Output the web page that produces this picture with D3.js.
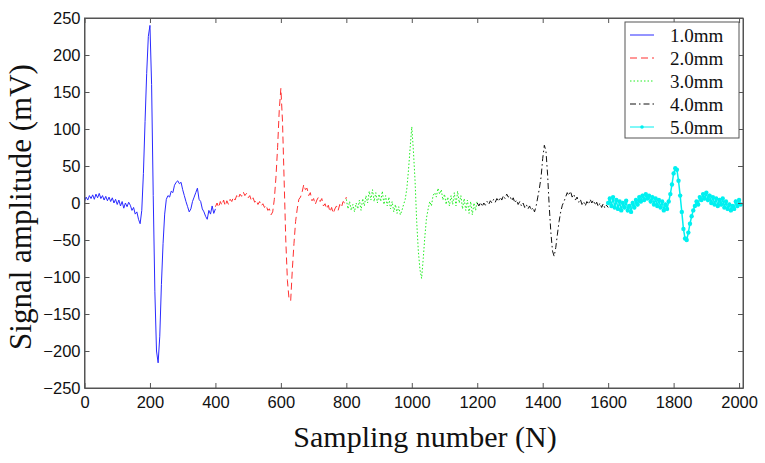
<!DOCTYPE html>
<html><head><meta charset="utf-8">
<script src="https://cdn.jsdelivr.net/npm/d3@7"></script>
<style>
html,body{margin:0;padding:0;background:#fff;}
svg{display:block;}
</style></head>
<body>
<svg id="chart" width="765" height="463"></svg>
<script>
// ---- data ----
const seriesNames = ["1.0mm", "2.0mm", "3.0mm", "4.0mm", "5.0mm"];
const sampleStep = 5;
const seriesStart = [0, 400, 800, 1200, 1600];
const xTicks = [0, 200, 400, 600, 800, 1000, 1200, 1400, 1600, 1800, 2000];
const yTicks = [-250, -200, -150, -100, -50, 0, 50, 100, 150, 200, 250];

const s1 = [2,8,4,10,6,11,5,12,7,13,6,10,4,9,3,8,2,7,0,5,-2,4,-4,2,-7,0,-5,1,-3,-10,-6,-15,-12,-22,-28,-10,
  40,110,175,225,240,160,10,-120,-200,-216,-180,-110,-55,-15,5,10,8,16,14,24,28,30,26,28,18,10,2,-5,-12,-8,2,8,14,20,5,2,-8,-12,-18,-22,-10,-15,-4,-14,-8];
const s2 = [-5,0,-6,2,-3,4,-4,3,-2,5,2,8,4,10,6,12,9,15,10,13,7,10,3,7,1,4,-2,2,-4,-1,-6,-3,-10,-8,-16,-12,
  5,35,75,125,155,110,30,-50,-105,-130,-132,-90,-55,-25,-8,5,8,15,25,18,20,10,14,3,6,-2,4,8,2,6,-4,-1,-8,-3,-12,-6,-14,-8,-4,-10,-2,-6,2,0,8];
const s3 = [5,-8,2,-10,-2,-12,0,-8,4,-10,6,-4,10,0,16,4,18,2,14,0,12,2,16,-2,10,-4,8,-8,2,-12,-2,-14,-5,-16,-10,-2,
  5,20,45,75,103,70,30,-25,-65,-90,-102,-75,-45,-20,-8,2,-4,10,14,8,20,12,18,4,12,-2,8,-4,10,-2,14,-4,16,0,10,-8,6,-10,4,-14,2,-16,0,-10,4];
const s4 = [0,-4,1,-5,0,-3,2,-2,3,0,5,1,6,2,8,4,10,6,12,8,10,3,7,0,4,-2,2,-4,0,-6,-2,-8,-4,-10,-6,-12,
  -4,8,20,35,60,78,70,38,-5,-40,-65,-72,-60,-42,-25,-12,-3,2,8,14,10,16,8,12,4,8,1,5,-2,2,-4,2,-2,5,0,4,-3,1,-5,0,-6,-1,-7,-3,-6];
const s5 = [0,6,-4,8,-6,4,-8,2,-10,0,-6,3,-10,-4,-12,0,-6,4,-2,8,2,10,4,12,6,10,2,8,-2,6,-4,4,-6,2,-10,-2,
  -8,2,12,25,40,47,45,30,10,-12,-35,-48,-50,-40,-28,-18,-10,-4,2,-2,8,4,12,6,14,4,10,0,8,-2,6,-4,4,-2,6,-6,2,-8,-2,-10,-4,-8,2,-4,4,-2];
const seriesValues = [s1, s2, s3, s4, s5];
const seriesColors = ["#2a2aff", "#ff3030", "#22ee22", "#111111", "#00f0f0"];
const seriesDash = [null, "7,4", "1.5,2", "6,3,1.5,3", null];

// ---- layout ----
const svg = d3.select("#chart");
const L = 84.5, R = 743, T = 18, B = 388;
const x = d3.scaleLinear().domain([0, 2012]).range([L, R]);
const y = d3.scaleLinear().domain([-250, 250]).range([B, T]);
const axisColor = "#555";

// series
const line = d3.line().x(d => x(d[0])).y(d => y(d[1]));
seriesValues.forEach((vals, k) => {
  const pts = vals.map((v, i) => [seriesStart[k] + i * sampleStep, v]);
  svg.append("path").datum(pts)
    .attr("d", line).attr("fill", "none")
    .attr("stroke", seriesColors[k]).attr("stroke-width", k === 4 ? 1.5 : 1)
    .attr("stroke-dasharray", seriesDash[k]);
  if (k === 4) {
    svg.append("g").selectAll("circle").data(pts).join("circle")
      .attr("cx", d => x(d[0])).attr("cy", d => y(d[1])).attr("r", 2.2)
      .attr("fill", seriesColors[k]);
  }
});

// axes
function styleAxis(g) {
  g.selectAll("path").attr("stroke", axisColor);
  g.selectAll("line").attr("stroke", axisColor);
  g.selectAll("text").attr("fill", "#111")
    .style("font-family", "'Liberation Sans', Arial, sans-serif").style("font-size", "16.5px");
}
svg.append("g").attr("transform", `translate(0,${B})`)
  .call(d3.axisBottom(x).tickValues(xTicks).tickFormat(d3.format("d")).tickSizeInner(-5).tickSizeOuter(0).tickPadding(8))
  .call(styleAxis);
svg.append("g").attr("transform", `translate(0,${T})`)
  .call(d3.axisTop(x).tickValues(xTicks).tickFormat("").tickSizeInner(-5).tickSizeOuter(0))
  .call(styleAxis);
svg.append("g").attr("transform", `translate(${L},0)`)
  .call(d3.axisLeft(y).tickValues(yTicks).tickFormat(d => d3.format("d")(d).replace("-", "\u2212")).tickSizeInner(-5).tickSizeOuter(0).tickPadding(4))
  .call(styleAxis);
svg.append("g").attr("transform", `translate(${R},0)`)
  .call(d3.axisRight(y).tickValues(yTicks).tickFormat("").tickSizeInner(-5).tickSizeOuter(0))
  .call(styleAxis);
svg.append("rect").attr("x", L).attr("y", T).attr("width", R - L).attr("height", B - T)
  .attr("fill", "none").attr("stroke", axisColor).attr("stroke-width", 1);

// axis titles
svg.append("text").attr("x", 425).attr("y", 447).attr("text-anchor", "middle")
  .style("font-family", "'Liberation Serif', 'Times New Roman', serif").style("font-size", "30px")
  .attr("fill", "#111").text("Sampling number (N)");
svg.append("text").attr("transform", "translate(31,207) rotate(-90)").attr("text-anchor", "middle")
  .style("font-family", "'Liberation Serif', 'Times New Roman', serif").style("font-size", "31px")
  .attr("fill", "#111").text("Signal amplitude (mV)");

// legend
const lg = svg.append("g");
lg.append("rect").attr("x", 625).attr("y", 22).attr("width", 114).attr("height", 116)
  .attr("fill", "#fff").attr("stroke", axisColor).attr("stroke-width", 1);
seriesNames.forEach((name, k) => {
  const ly = 35 + k * 23;
  lg.append("line").attr("x1", 630).attr("x2", 654).attr("y1", ly).attr("y2", ly)
    .attr("stroke", seriesColors[k]).attr("stroke-width", 1).attr("stroke-dasharray", seriesDash[k]);
  if (k === 4) {
    lg.append("circle").attr("cx", 642).attr("cy", ly).attr("r", 1.8).attr("fill", seriesColors[k]);
  }
  lg.append("text").attr("x", 670).attr("y", ly + 7)
    .style("font-family", "'Liberation Serif', 'Times New Roman', serif").style("font-size", "19px")
    .attr("fill", "#111").text(name);
});
</script>
</body></html>
